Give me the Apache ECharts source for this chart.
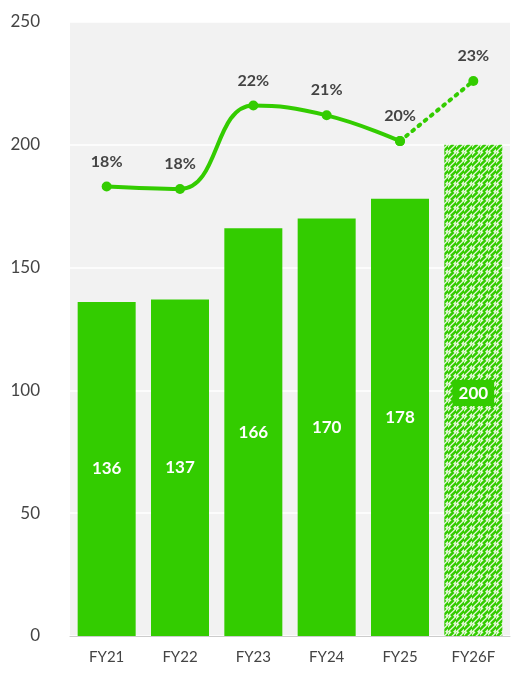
<!DOCTYPE html>
<html><head><meta charset="utf-8">
<script src="https://cdn.jsdelivr.net/npm/echarts@6/dist/echarts.min.js"></script>
<style>html,body{margin:0;background:#fff}#c{width:528px;height:691px}</style>
</head><body><div id="c"></div>
<script>
const categories = ['FY21','FY22','FY23','FY24','FY25','FY26F'];
const revenue = [136,137,166,170,178,200];
const marginPos = [183,182,216,212,201.5,226];
const marginLabels = ['18%','18%','22%','21%','20%','23%'];
const yTicks = [0,50,100,150,200,250];

const pc = document.createElement('canvas');
pc.width = 8; pc.height = 8;
const g = pc.getContext('2d');
g.fillStyle = '#e8f8dc'; g.fillRect(0,0,8,8);
g.strokeStyle = '#33cc00'; g.lineWidth = 2.6;
for (let k=-8;k<=16;k+=5.5){ g.beginPath(); g.moveTo(k,8); g.lineTo(k+8,0); g.stroke(); }

const green = '#33cc00';
const barData = revenue.map((v,i)=> i===5 ? {
  value:v, itemStyle:{color:{image:pc,repeat:'repeat'}},
  label:{position:'insideBottom', distance:230, backgroundColor:green, padding:[5,6,4,6]}
} : v);
const solid = marginPos.map((v,i)=> i<5 ? v : '-');
const dotted = marginPos.map((v,i)=> i>=4 ? v : '-');

const chart = echarts.init(document.getElementById('c'));
chart.setOption({
  animation:false,
  grid:{left:70,right:18,top:22,bottom:55,show:true,backgroundColor:'#f2f2f2',borderWidth:0},
  xAxis:{type:'category',data:categories,axisTick:{show:false},
    axisLine:{lineStyle:{color:'#cccccc'}},
    axisLabel:{color:'#444',fontSize:15,margin:14,fontFamily:'Lato'}},
  yAxis:{type:'value',min:yTicks[0],max:yTicks[yTicks.length-1],interval:50,
    splitLine:{lineStyle:{color:'#ffffff',width:1.5}},
    axisLabel:{color:'#444',fontSize:17,margin:30,fontFamily:'Lato'}},
  series:[
    {type:'bar',data:barData,barWidth:58,itemStyle:{color:green},
     label:{show:true,position:'inside',color:'#fff',fontWeight:'bold',fontSize:17,fontFamily:'Lato'}},
    {type:'line',data:solid,smooth:0.45,symbol:'circle',symbolSize:10,
     lineStyle:{color:green,width:4},itemStyle:{color:green},z:5,
     label:{show:true,position:'top',distance:12,color:'#444',fontWeight:'bold',fontSize:16,fontFamily:'Lato',
       formatter:p=>marginLabels[p.dataIndex]}},
    {type:'line',data:dotted,symbol:'circle',symbolSize:10,
     lineStyle:{color:green,width:4,type:[2,6],cap:'round'},itemStyle:{color:green},z:4,
     label:{show:true,position:'top',distance:12,color:'#444',fontWeight:'bold',fontSize:16,fontFamily:'Lato',
       formatter:p=>p.dataIndex===5?marginLabels[5]:''}}
  ]
});
</script></body></html>
